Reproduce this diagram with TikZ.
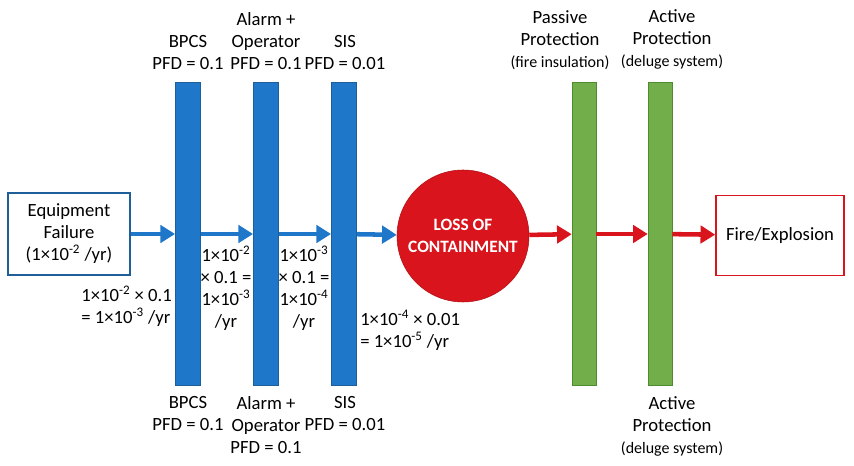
\documentclass[tikz,border=0pt]{standalone}
\usepackage{fontspec}
\setmainfont{Carlito}
\usetikzlibrary{arrows.meta}
\definecolor{bblue}{HTML}{1F77C9}
\definecolor{bdark}{HTML}{1F5F99}
\definecolor{rred}{HTML}{D9141C}
\definecolor{ggreen}{HTML}{72AE4A}
\definecolor{gdark}{HTML}{4E8A30}
\newcommand{\sx}[1]{\textsuperscript{#1}}
\tikzset{
 lbl/.style={align=center,font=\fontsize{14}{16.5}\selectfont,inner sep=0pt},
 small/.style={font=\fontsize{12}{14}\selectfont},
 bbar/.style={draw=bdark,fill=bblue,minimum width=19pt,minimum height=227pt,inner sep=0pt},
 gbar/.style={draw=gdark,fill=ggreen,minimum width=18pt,minimum height=227pt,inner sep=0pt},
 barr/.style={draw=bblue,line width=3.4pt,-{Triangle[width=13pt,length=11pt]}},
 rarr/.style={draw=rred,line width=3.4pt,-{Triangle[width=13pt,length=11pt]}},
}
\begin{document}
\begin{tikzpicture}[x=0.75pt,y=-0.75pt]
\useasboundingbox (0,0) rectangle (854,466);
\node[draw=bdark,line width=1.5pt,minimum width=91pt,minimum height=61pt,lbl] (eq) at (69,234) {Equipment\\Failure\\(1×10\sx{-2} /yr)};
\node[bbar] (b1) at (188,234) {};
\node[bbar] (b2) at (266,234) {};
\node[bbar] (b3) at (344,234) {};
\node[circle,fill=rred,draw=rred!80!black,minimum size=99pt,align=center,text=white,font=\fontsize{13}{17}\selectfont\bfseries] (loc) at (463,236) {LOSS OF\\CONTAINMENT};
\node[gbar] (g1) at (584,234) {};
\node[gbar] (g2) at (660,234) {};
\node[draw=rred,line width=1.2pt,minimum width=96pt,minimum height=60pt,lbl] (fire) at (780,235.5) {Fire/Explosion};
\draw[barr] (eq) -- (b1);
\draw[barr] (b1) -- (b2);
\draw[barr] (b2) -- (b3);
\draw[barr] (b3) -- (loc);
\draw[rarr] (loc) -- (g1);
\draw[rarr] (g1) -- (g2);
\draw[rarr] (g2) -- (fire);
% top labels
\node[lbl,anchor=south] (t1) at (188,70) {BPCS\\PFD = 0.1};
\node[lbl,anchor=south] (t2) at (266,70) {Alarm +\\Operator\\PFD = 0.1};
\node[lbl,anchor=south] (t3) at (345,70) {SIS\\PFD = 0.01};
\node[lbl,anchor=south] (t4) at (560,70) {Passive\\Protection\\{\fontsize{12}{14}\selectfont (fire insulation)}};
\node[lbl,anchor=south] (t5) at (672,70) {Active\\Protection\\{\fontsize{12}{14}\selectfont (deluge system)}};
% bottom labels
\node[lbl,anchor=north] (u1) at (188,396) {BPCS\\PFD = 0.1};
\node[lbl,anchor=north] (u2) at (266,396) {Alarm +\\Operator\\PFD = 0.1};
\node[lbl,anchor=north] (u3) at (345,396) {SIS\\PFD = 0.01};
\node[lbl,anchor=north] (u5) at (672,396) {Active\\Protection\\{\fontsize{12}{14}\selectfont (deluge system)}};
% calcs
\node[lbl,align=left,anchor=north east] (c1) at (172,286) {1×10\sx{-2} × 0.1\\= 1×10\sx{-3} /yr};
\node[lbl,anchor=north] (c2) at (226,246) {1×10\sx{-2}\\× 0.1 =\\1×10\sx{-3}\\/yr};
\node[lbl,anchor=north] (c3) at (304,246) {1×10\sx{-3}\\× 0.1 =\\1×10\sx{-4}\\/yr};
\node[lbl,align=left,anchor=north west] (c4) at (360,310) {1×10\sx{-4} × 0.01\\= 1×10\sx{-5} /yr};
\end{tikzpicture}
\end{document}
